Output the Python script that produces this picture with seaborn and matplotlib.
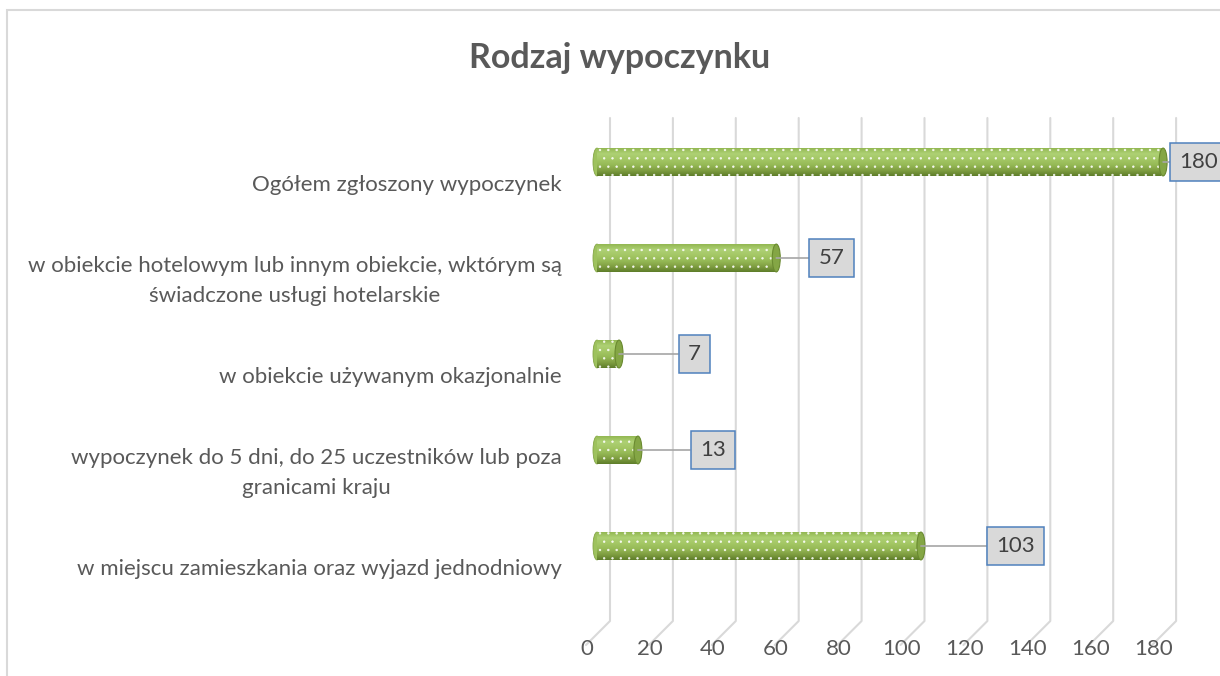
import matplotlib
matplotlib.use("Agg")
import numpy as np
import pandas as pd
import seaborn as sns
import matplotlib.pyplot as plt
import matplotlib.transforms as mtransforms
from matplotlib.patches import Rectangle, Ellipse
from matplotlib.lines import Line2D
from matplotlib.colors import LinearSegmentedColormap

# ---------------- data ----------------
title = "Rodzaj wypoczynku"
categories = [
    "Ogółem zgłoszony wypoczynek",
    "w obiekcie hotelowym lub innym obiekcie, wktórym są\nświadczone usługi hotelarskie",
    "w obiekcie używanym okazjonalnie",
    "wypoczynek do 5 dni, do 25 uczestników lub poza\ngranicami kraju",
    "w miejscu zamieszkania oraz wyjazd jednodniowy",
]
values = [180, 57, 7, 13, 103]
x_ticks = [0, 20, 40, 60, 80, 100, 120, 140, 160, 180]

# layout: x position (data units) of each value-label box
label_x = [185.2, 70.5, 28.9, 32.7, 127.0]

# ---------------- style ----------------
W, H, DPI = 1220, 676, 100
sns.set_theme(style="white")
plt.rcParams["font.family"] = ["Lato", "DejaVu Sans"]
plt.rcParams["hatch.linewidth"] = 0.5

TXT = "#595959"
FS = 16

fig = plt.figure(figsize=(W / DPI, H / DPI), dpi=DPI)
fig.patch.set_facecolor("white")

ax_l, ax_r, ax_t, ax_b = 597, 1220, 118, 645
ax = fig.add_axes([ax_l / W, 1 - ax_b / H, (ax_r - ax_l) / W, (ax_b - ax_t) / H])
ax.set_facecolor("none")

df = pd.DataFrame({"kategoria": categories, "liczba": values})
sns.barplot(data=df, y="kategoria", x="liczba", orient="h", width=0.29,
            color="#9BBB59", ax=ax, zorder=2, saturation=1)

bars = list(ax.patches)
px_per_unit = 3.145
xmax = (ax_r - ax_l) / px_per_unit
y_top = (ax_t - 162) / 96
y_bot = (ax_b - 162) / 96

grad_cmap = LinearSegmentedColormap.from_list(
    "cyl", ["#93B853", "#AED174", "#A4C765", "#96BA56", "#809F42", "#5F7E2A"])
grad = np.linspace(0, 1, 64).reshape(-1, 1)
cap_w = 8 / px_per_unit

for patch in bars:
    x0, y0, w, h = patch.get_x(), patch.get_y(), patch.get_width(), patch.get_height()
    yc = y0 + h / 2
    ax.add_patch(Ellipse((x0, yc), cap_w, h, facecolor="#9EC25E", edgecolor="#84A645",
                         lw=0.6, zorder=1.9, clip_on=False))
    im = ax.imshow(grad, cmap=grad_cmap, extent=(x0, x0 + w, y0 + h, y0),
                   aspect="auto", origin="upper", zorder=2, interpolation="bilinear")
    im.set_clip_path(patch)
    patch.set_facecolor("none")
    patch.set_edgecolor((1, 1, 1, 0.85))
    patch.set_linewidth(0)
    patch.set_hatch("..")
    patch.set_zorder(2.5)
    ax.add_patch(Ellipse((x0 + w, yc), cap_w, h, facecolor="#84A645",
                         edgecolor="#6A8A30", lw=0.8, zorder=3))

ax.set_xlim(0, xmax)
ax.set_ylim(y_bot, y_top)
ax.set_aspect("auto")

for s in ax.spines.values():
    s.set_visible(False)
ax.grid(False)
ax.set_xlabel("")
ax.set_ylabel("")
ax.tick_params(length=0, pad=0)

# gridlines with 3D floor perspective
ident = mtransforms.IdentityTransform()
for t in x_ticks:
    xp = ax.transData.transform((t, 0))[0]
    ln = Line2D([xp + 13, xp + 13, xp - 11], [H - ax_t, H - 621, H - 645],
                transform=ident, color="#D9D9D9", lw=1.5, zorder=0.5, clip_on=False)
    ax.add_line(ln)

# tick labels
ax.set_xticks(x_ticks)
ax.set_xticklabels([str(t) for t in x_ticks], fontsize=FS, color=TXT)
xoff = mtransforms.ScaledTranslation(-10 / DPI, -4 / DPI, fig.dpi_scale_trans)
for lbl in ax.get_xticklabels():
    lbl.set_va("center")
    lbl.set_transform(lbl.get_transform() + xoff)

ax.set_yticks(range(len(categories)))
ax.set_yticklabels(categories, fontsize=FS, color=TXT)
yoff = mtransforms.ScaledTranslation(-35 / DPI, -23 / DPI, fig.dpi_scale_trans)
for lbl in ax.get_yticklabels():
    lbl.set_ha("right")
    lbl.set_va("center")
    lbl.set_multialignment("center")
    lbl.set_linespacing(1.6)
    lbl.set_transform(lbl.get_transform() + yoff)

# value labels with leader lines
for i, (v, lx) in enumerate(zip(values, label_x)):
    ax.annotate(str(v), xy=(v, i), xytext=(lx, i), ha="left", va="center",
                fontsize=FS, color="#404040",
                bbox=dict(boxstyle="square,pad=0.42", fc="#D9D9D9", ec="#4F81BD", lw=1.1),
                arrowprops=dict(arrowstyle="-", color="#A6A6A6", lw=1.2, shrinkA=0, shrinkB=0),
                zorder=5, annotation_clip=False)

fig.text(620 / W, 1 - 58 / H, title, ha="center", va="center", fontsize=24.5,
         fontweight="bold", color=TXT)

fig.add_artist(Rectangle((7 / W, -0.05), 1.1, (1 - 10 / H) + 0.05, transform=fig.transFigure,
                         fill=False, ec="#D9D9D9", lw=1.5, zorder=10))

fig.savefig("out.png", dpi=DPI, facecolor="white")
